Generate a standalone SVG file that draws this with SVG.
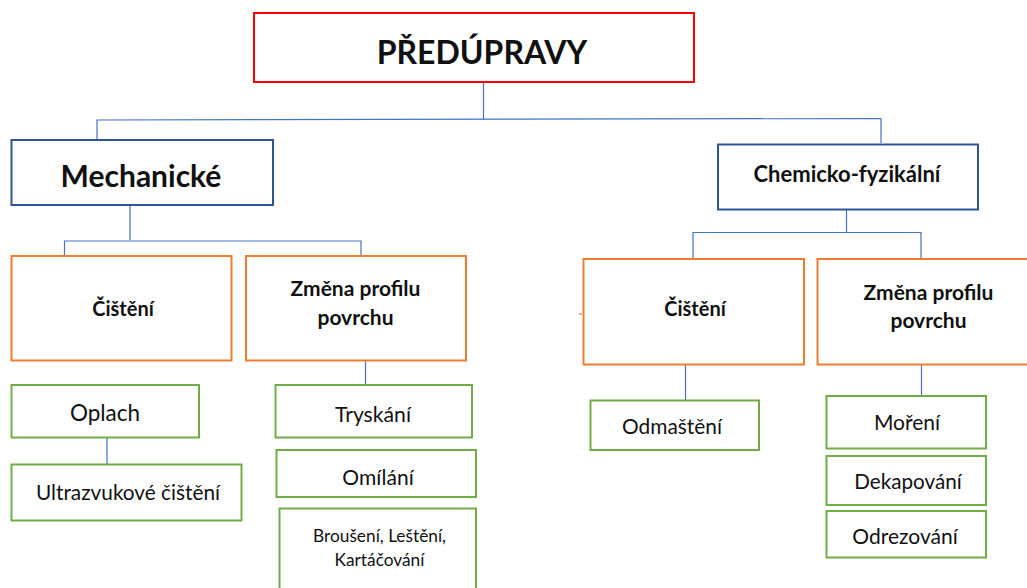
<svg xmlns="http://www.w3.org/2000/svg" width="1027" height="588" viewBox="0 0 1027 588">
  <style>
    .box { fill: #FFFFFF; stroke-width: 2; }
    .root { stroke: #FF0000; }
    .cat { stroke: #2F5597; }
    .grp { stroke: #ED7D31; }
    .leaf { stroke: #70AD47; }
    .link { fill: none; stroke: #4472C4; stroke-width: 1.2; }
    text { font-family: Lato, "Open Sans", "Liberation Sans", sans-serif; fill: #111111; text-anchor: middle; }
    .b { font-weight: bold; }
  </style>
  <rect width="1027" height="588" fill="#FFFFFF"/>

  <!-- connectors -->
  <g id="connectors">
    <polyline class="link" points="483.5,82 483.5,119"/>
    <polyline class="link" points="97,139 97,120 881,118.5 881,143"/>
    <polyline class="link" points="130,205 130,240"/>
    <polyline class="link" points="64.5,256 64.5,241 361,241 361,256"/>
    <polyline class="link" points="365.5,361 365.5,384"/>
    <polyline class="link" points="107,438 107,464"/>
    <polyline class="link" points="846.5,210 846.5,232"/>
    <polyline class="link" points="693,259 693,232.5 921,232.5 921,259"/>
    <polyline class="link" points="685.5,365 685.5,401"/>
    <polyline class="link" points="921.5,365 921.5,396"/>
  </g>

  <g id="node-root">
    <rect class="box root" x="254" y="13" width="440" height="69"/>
    <text class="b" x="482" y="64" font-size="32">PŘEDÚPRAVY</text>
  </g>

  <g id="node-mech">
    <rect class="box cat" x="11.5" y="140" width="261.5" height="65"/>
    <text class="b" x="141" y="187" font-size="30">Mechanické</text>
  </g>

  <g id="node-chem">
    <rect class="box cat" x="718" y="144.5" width="260" height="65"/>
    <text class="b" x="847" y="182" font-size="22">Chemicko-fyzikální</text>
  </g>

  <g id="node-mech-clean">
    <rect class="box grp" x="11.5" y="256" width="220" height="104.5"/>
    <text class="b" x="123" y="316" font-size="20">Čištění</text>
  </g>

  <g id="node-mech-profile">
    <rect class="box grp" x="246" y="256" width="220" height="104.5"/>
    <text class="b" x="355.5" y="296" font-size="21">Změna profilu</text>
    <text class="b" x="355.5" y="325" font-size="21">povrchu</text>
  </g>

  <g id="node-chem-clean">
    <rect class="box grp" x="583.5" y="259" width="220.5" height="105.5"/>
    <text class="b" x="695" y="316" font-size="20">Čištění</text>
  </g>
  <line x1="579.5" y1="314" x2="581.5" y2="314" stroke="#FF0000" stroke-width="1"/>

  <g id="node-chem-profile">
    <rect class="box grp" x="817.5" y="259" width="215" height="105.5"/>
    <text class="b" x="928.5" y="300" font-size="21">Změna profilu</text>
    <text class="b" x="928.5" y="328" font-size="21">povrchu</text>
  </g>

  <g id="node-oplach">
    <rect class="box leaf" x="11.5" y="385" width="187.5" height="52.5"/>
    <text x="105" y="421" font-size="22.5">Oplach</text>
  </g>

  <g id="node-ultrazvuk">
    <rect class="box leaf" x="11.5" y="464.5" width="230" height="56"/>
    <text x="128" y="500" font-size="20.8">Ultrazvukové čištění</text>
  </g>

  <g id="node-tryskani">
    <rect class="box leaf" x="275.5" y="385" width="196.5" height="52.5"/>
    <text x="373" y="422" font-size="21.2">Tryskání</text>
  </g>

  <g id="node-omilani">
    <rect class="box leaf" x="276.5" y="450" width="199.5" height="47"/>
    <text x="378" y="485" font-size="21">Omílání</text>
  </g>

  <g id="node-brouseni">
    <rect class="box leaf" x="279.5" y="508.5" width="196.5" height="90"/>
    <text x="379.5" y="542" font-size="17.3">Broušení, Leštění,</text>
    <text x="379.5" y="566" font-size="17.3">Kartáčování</text>
  </g>

  <g id="node-odmasteni">
    <rect class="box leaf" x="590.5" y="400.5" width="168.5" height="49.5"/>
    <text x="672" y="433.5" font-size="20.9">Odmaštění</text>
  </g>

  <g id="node-moreni">
    <rect class="box leaf" x="826.5" y="396" width="159.5" height="52.5"/>
    <text x="907" y="430" font-size="21">Moření</text>
  </g>

  <g id="node-dekapovani">
    <rect class="box leaf" x="826.5" y="456" width="159.5" height="49"/>
    <text x="908" y="488.5" font-size="20.7">Dekapování</text>
  </g>

  <g id="node-odrezovani">
    <rect class="box leaf" x="826.5" y="511" width="159.5" height="46.5"/>
    <text x="905" y="544" font-size="21">Odrezování</text>
  </g>
</svg>
